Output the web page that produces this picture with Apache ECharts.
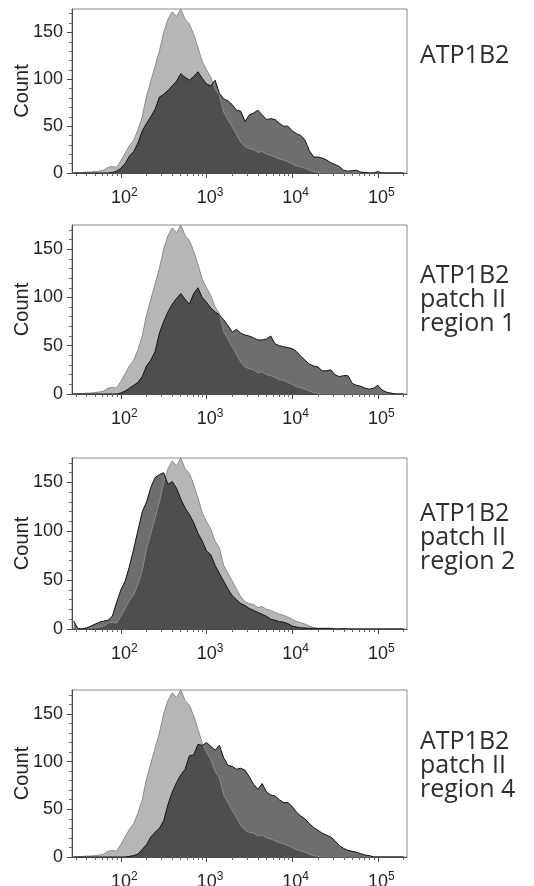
<!DOCTYPE html>
<html>
<head>
<meta charset="utf-8">
<script src="https://cdn.jsdelivr.net/npm/echarts@6.0.0/dist/echarts.min.js"></script>
<style>
  html, body { margin: 0; padding: 0; background: #fff; }
  #main { width: 534px; height: 886px; }
</style>
</head>
<body>
<div id="main"></div>
<script>
// bin centres, log10 of fluorescence
var bins = [
  1.45, 1.5, 1.55, 1.6, 1.65, 1.7, 1.75, 1.8, 1.85, 1.9,
  1.95, 2.0, 2.05, 2.1, 2.15, 2.2, 2.25, 2.3, 2.35, 2.4,
  2.45, 2.5, 2.55, 2.6, 2.65, 2.7, 2.75, 2.8, 2.85, 2.9,
  2.95, 3.0, 3.05, 3.1, 3.15, 3.2, 3.25, 3.3, 3.35, 3.4,
  3.45, 3.5, 3.55, 3.6, 3.65, 3.7, 3.75, 3.8, 3.85, 3.9,
  3.95, 4.0, 4.05, 4.1, 4.15, 4.2, 4.25, 4.3, 4.35, 4.4,
  4.45, 4.5, 4.55, 4.6, 4.65, 4.7, 4.75, 4.8, 4.85, 4.9,
  4.95, 5.0, 5.05, 5.1, 5.15, 5.2, 5.25, 5.3
];

// light grey control histogram (same in every panel)
var control = [
  0, 0, 0.5, 1, 1, 1.5, 2, 3, 6, 7,
  6, 13, 21, 29, 35, 46, 60, 82, 98, 114,
  130, 150, 164, 172, 167, 175, 164, 159, 148, 134,
  119, 110, 102, 90, 83, 65, 57, 49, 41, 33,
  28, 26, 25, 22, 23, 20, 19, 17, 15, 14,
  12, 10, 7.6, 6.5, 5, 3, 1.5, 0.7, 0, 0,
  0, 0, 0, 0, 0, 0, 0, 0, 0, 0,
  0, 0, 0, 0, 0, 0, 0, 0
];

var atp1b2 = [
  0, 0, 0, 0, 0, 0, 0, 0, 0, 0.5,
  2, 5, 10, 18, 23, 32, 45, 53, 60, 68,
  81, 84, 88, 93, 98, 106, 102, 99, 103, 108,
  101, 95, 93, 99, 85, 79, 77, 73, 67, 66,
  55, 62, 64, 67, 62, 57, 58, 57, 53, 50,
  50, 45, 42, 40, 35, 24, 17, 17, 16, 14,
  11, 9, 7, 3, 2, 2.5, 3, 1, 0.5, 0,
  0, 1.5, 0, 0, 0, 0, 0, 0
];

var region1 = [
  0, 0, 0, 0, 0, 0, 0, 0, 0, 0,
  0, 1, 3, 6, 9, 12, 18, 29, 35, 44,
  63, 75, 85, 93, 99, 104, 98, 93, 104, 110,
  100, 95, 89, 85, 82, 77, 71, 64, 67, 63,
  61, 60, 58, 56, 56, 57, 60, 52, 50, 49,
  48, 47, 44, 39, 35, 31, 29, 28, 24, 24,
  25, 20, 18, 19, 19, 11, 9, 8, 6, 5,
  6, 9, 4, 2, 1, 0, 0, 0
];

var region2 = [
  8, 0.5, 0, 1, 3, 5, 7, 8, 9, 13,
  27, 40, 49, 64, 82, 101, 120, 130, 145, 155,
  158, 160, 148, 151, 144, 133, 124, 117, 109, 98,
  90, 80, 76, 65, 57, 49, 41, 34, 30, 26,
  24, 21, 19, 17, 15, 13, 10, 9, 7.5, 7,
  5.5, 3, 2, 1.2, 1, 0.7, 0.7, 0.5, 0.7, 0.7,
  0.7, 0, 0, 0.5, 0, 0, 0, 0, 0, 0,
  0, 0, 0, 0, 0, 0, 0, 0
];

var region4 = [
  0, 0, 0, 0, 0, 0, 0, 0, 0, 0,
  0, 0, 0, 0.7, 1.5, 3, 8, 13, 21, 26,
  30, 38, 55, 68, 78, 86, 92, 106, 107, 118,
  117, 120, 116, 112, 117, 104, 96, 95, 92, 93,
  91, 84, 76, 71, 77, 68, 65, 64, 60, 57,
  57, 53, 47, 43, 40, 35, 31, 28, 25, 23,
  21, 17, 12, 9, 7, 6, 5, 3.5, 2, 1.5,
  0, 0, 0, 0, 0, 0, 0, 0
];

var samples = [atp1b2, region1, region2, region4];
var panelNames = [
  'ATP1B2',
  'ATP1B2\npatch II\nregion 1',
  'ATP1B2\npatch II\nregion 2',
  'ATP1B2\npatch II\nregion 4'
];

var yTicks = [0, 50, 100, 150];
var yMinorTicks = [10, 20, 30, 40, 60, 70, 80, 90, 110, 120, 130, 140, 160, 170];
var xDecades = [2, 3, 4, 5];

// layout of the four stacked plots
var panelTops = [9, 225, 458, 690];
var panelHeights = [164, 169, 171, 167];
var nameTops = [43, 263, 501, 729];

var xMin = 1.43, xMax = 5.34;

// log minor ticks 2..9 x 10^n
var xMinorTicks = [];
for (var n = 1; n <= 5; n++) {
  for (var k = 2; k <= 9; k++) {
    var t = Math.log10(k * Math.pow(10, n));
    if (t > xMin && t < xMax) xMinorTicks.push(t);
  }
}

function pairs(arr) {
  return bins.map(function (b, i) { return [b, arr[i]]; });
}

var axisColor = '#4a4a4a';
var grid = [], xAxis = [], yAxis = [], series = [], graphic = [];

for (var p = 0; p < 4; p++) {
  grid.push({
    left: 72, top: panelTops[p], width: 335, height: panelHeights[p],
    outerBoundsMode: 'none', containLabel: false,
    show: true, borderColor: '#8a8a8a', borderWidth: 1
  });

  // main x axis: 10^n labels
  xAxis.push({
    gridIndex: p, type: 'value', position: 'bottom', min: xMin, max: xMax,
    axisLine: { show: true, lineStyle: { color: axisColor, width: 1 } },
    axisTick: { show: true, customValues: xDecades, length: 5, lineStyle: { color: axisColor } },
    axisLabel: {
      customValues: xDecades, margin: 14,
      formatter: function (v) { return '{p|}{b|10}{s|' + Math.round(v) + '}'; },
      rich: {
        p: { width: 7 },
        b: { fontSize: 18, fontFamily: 'Liberation Sans', color: '#222', lineHeight: 20, verticalAlign: 'bottom' },
        s: { fontSize: 12, fontFamily: 'Liberation Sans', color: '#222', lineHeight: 12, verticalAlign: 'top' }
      }
    },
    splitLine: { show: false }
  });
  // minor log ticks
  xAxis.push({
    gridIndex: p, type: 'value', position: 'bottom', min: xMin, max: xMax,
    axisLine: { show: false },
    axisTick: { show: true, customValues: xMinorTicks, length: 3, lineStyle: { color: '#666' } },
    axisLabel: { show: false },
    splitLine: { show: false }
  });

  yAxis.push({
    gridIndex: p, type: 'value', position: 'left', min: 0, max: 175,
    name: 'Count', nameLocation: 'middle', nameGap: 40, nameMoveOverlap: false,
    nameTextStyle: { fontSize: 20, fontFamily: 'Liberation Sans', color: '#222' },
    axisLine: { show: true, lineStyle: { color: axisColor, width: 1 } },
    axisTick: { show: true, customValues: yTicks, length: 5, lineStyle: { color: axisColor } },
    axisLabel: { customValues: yTicks, margin: 9, fontSize: 18, fontFamily: 'Liberation Sans', color: '#222' },
    splitLine: { show: false }
  });
  yAxis.push({
    gridIndex: p, type: 'value', position: 'left', min: 0, max: 175,
    axisLine: { show: false },
    axisTick: { show: true, customValues: yMinorTicks, length: 3, lineStyle: { color: '#666' } },
    axisLabel: { show: false },
    splitLine: { show: false }
  });

  series.push({
    type: 'line', name: 'control', xAxisIndex: 2 * p, yAxisIndex: 2 * p,
    data: pairs(control), symbol: 'none',
    lineStyle: { color: '#8c8c8c', width: 1 },
    areaStyle: { color: '#b6b6b6', opacity: 1 }
  });
  series.push({
    type: 'line', name: 'sample', xAxisIndex: 2 * p, yAxisIndex: 2 * p,
    data: pairs(samples[p]), symbol: 'none',
    lineStyle: { color: '#111', width: 1 },
    areaStyle: { color: '#000', opacity: 0.57 }
  });

  graphic.push({
    type: 'text', left: 420, top: nameTops[p],
    style: {
      text: panelNames[p], fill: '#2e2e2e',
      fontSize: 25, fontFamily: 'Open Sans', lineHeight: 24
    }
  });
}

var myChart = echarts.init(document.getElementById('main'));
myChart.setOption({
  animation: false,
  backgroundColor: '#fff',
  grid: grid,
  xAxis: xAxis,
  yAxis: yAxis,
  series: series,
  graphic: graphic
});
</script>
</body>
</html>
